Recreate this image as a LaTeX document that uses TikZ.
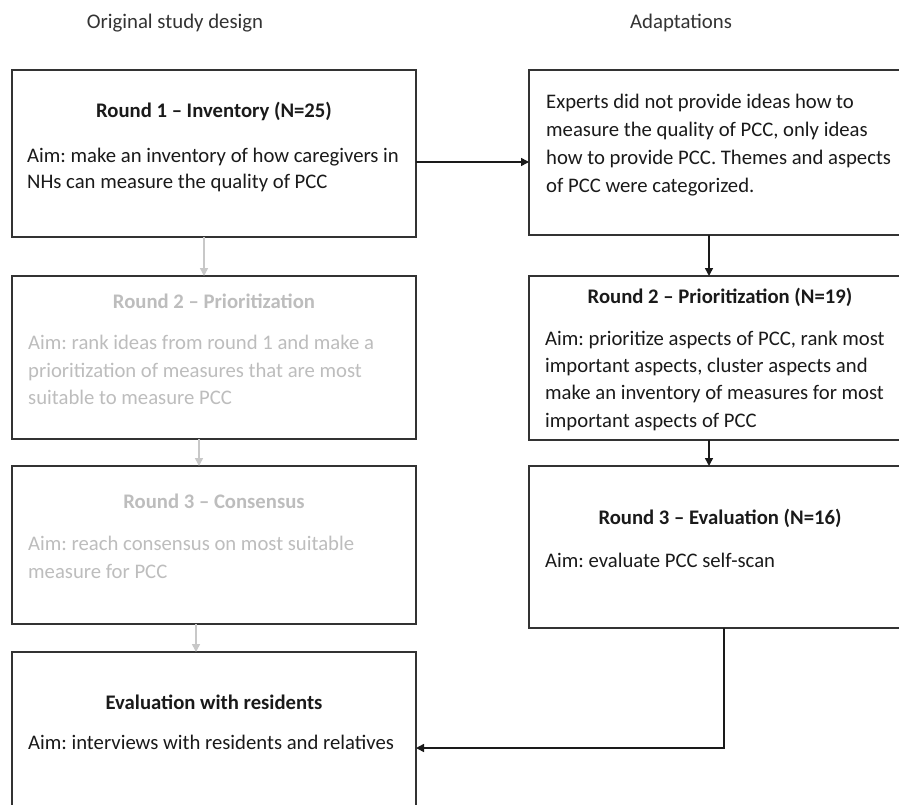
\documentclass[tikz,border=0pt]{standalone}
\usepackage{fontspec}
\setmainfont{Carlito}
\usetikzlibrary{arrows.meta,calc}
\definecolor{ink}{HTML}{1A1A1A}
\definecolor{frame}{HTML}{333333}
\definecolor{faded}{HTML}{BDBDBD}
\definecolor{fadedarrow}{HTML}{C8C8C8}
\frenchspacing
\tikzset{
  box/.style={draw=frame, line width=1.8pt, rectangle, inner sep=0pt, outer sep=0pt, fill=white},
  txt/.style={font=\fontsize{20.7}{28}\selectfont, text=ink, inner sep=0pt, anchor=base west},
  ttl/.style={font=\bfseries\fontsize{20.7}{28}\selectfont, text=ink, inner sep=0pt, anchor=base},
  ctr/.style={font=\fontsize{20.7}{28}\selectfont, text=ink, inner sep=0pt, anchor=base},
  gtxt/.style={txt, text=faded},
  gttl/.style={ttl, text=faded},
  hdr/.style={font=\fontsize{20.8}{24}\selectfont, text=frame, inner sep=0pt, anchor=base},
  arr/.style={draw=ink, line width=1.5pt, -{Triangle[length=8pt,width=8pt]}},
  garr/.style={draw=fadedarrow, line width=1.5pt, -{Triangle[length=8pt,width=8pt]}},
}
\begin{document}
\begin{tikzpicture}[x=1pt,y=-1pt]
\useasboundingbox (0,0) rectangle (899,805);
\clip (0,0) rectangle (899,805);
\fill[white] (0,0) rectangle (899,805);

% headers
\node[hdr] (h1) at (175,29) {Original study design};
\node[hdr] (h2) at (681,29) {Adaptations};

% left column boxes
\node[box, minimum width=404pt, minimum height=167pt] (b1) at (214,153.5) {};
\node[box, minimum width=404pt, minimum height=163pt] (l2) at (214,357.5) {};
\node[box, minimum width=404pt, minimum height=158pt] (l3) at (214,545) {};
\node[box, minimum width=404pt, minimum height=178pt] (ev) at (214,741) {};

% right column boxes
\node[box, minimum width=382pt, minimum height=165pt] (a1) at (720,152.5) {};
\node[box, minimum width=382pt, minimum height=164pt] (r2) at (720,358) {};
\node[box, minimum width=382pt, minimum height=162pt] (r3) at (720,547) {};

% box 1 text
\node[ttl] (b1t) at (214,118) {Round 1 – Inventory (N=25)};
\node[txt] (b1a) at (27,163) {Aim: make an inventory of how caregivers in};
\node[txt] (b1b) at (27,189) {NHs can measure the quality of PCC};

% left round 2
\node[gttl] (l2t) at (214,308) {Round 2 – Prioritization};
\node[gtxt] (l2a) at (28,349) {Aim: rank ideas from round 1 and make a};
\node[gtxt] (l2b) at (28,377) {prioritization of measures that are most};
\node[gtxt] (l2c) at (28,404) {suitable to measure PCC};

% left round 3
\node[gttl] (l3t) at (214,508) {Round 3 – Consensus};
\node[gtxt] (l3a) at (28,550) {Aim: reach consensus on most suitable};
\node[gtxt] (l3b) at (28,578) {measure for PCC};

% evaluation
\node[ttl] (evt) at (214,709) {Evaluation with residents};
\node[ctr] (eva) at (211,749) {Aim: interviews with residents and relatives};

% right A
\node[txt] (a1a) at (546,109) {Experts did not provide ideas how to};
\node[txt] (a1b) at (546,137) {measure the quality of PCC, only ideas};
\node[txt] (a1c) at (546,165) {how to provide PCC. Themes and aspects};
\node[txt] (a1d) at (546,193) {of PCC were categorized.};

% right round 2
\node[ttl] (r2t) at (720,303) {Round 2 – Prioritization (N=19)};
\node[txt] (r2a) at (545,345) {Aim: prioritize aspects of PCC, rank most};
\node[txt] (r2b) at (545,372) {important aspects, cluster aspects and};
\node[txt] (r2c) at (545,399) {make an inventory of measures for most};
\node[txt] (r2d) at (545,427) {important aspects of PCC};

% right round 3
\node[ttl] (r3t) at (720,524) {Round 3 – Evaluation (N=16)};
\node[txt] (r3a) at (545,567) {Aim: evaluate PCC self-scan};

% helper coordinates
\coordinate (y1) at (0,162);
\coordinate (xA) at (709,0);
\coordinate (xR) at (724,0);
\coordinate (yE) at (0,748);
\coordinate (g1) at (204,0);
\coordinate (g2) at (199,0);
\coordinate (g3) at (196,0);

% connectors
\draw[arr] (b1.east |- y1) -- (a1.west |- y1);
\draw[arr] (a1.south -| xA) -- (r2.north -| xA);
\draw[arr] (r2.south -| xA) -- (r3.north -| xA);
\draw[arr] (r3.south -| xR) |- (ev.east |- yE);

\draw[garr] (b1.south -| g1) -- (l2.north -| g1);
\draw[garr] (l2.south -| g2) -- (l3.north -| g2);
\draw[garr] (l3.south -| g3) -- (ev.north -| g3);
\end{tikzpicture}
\end{document}
